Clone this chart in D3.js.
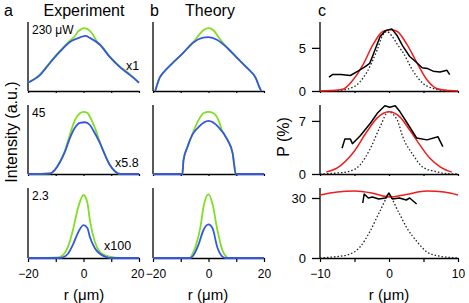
<!DOCTYPE html>
<html>
<head>
<meta charset="utf-8">
<script src="https://cdn.jsdelivr.net/npm/d3@7"></script>
<style>
  body { margin: 0; background: #fff; }
  svg { font-family: "Liberation Sans", Arial, sans-serif; }
</style>
</head>
<body>
<div id="chart"></div>
<script>
// ---- data (r in um, intensity in a.u.) ----
// panel a, experiment
var expGreen1 = [[-20,0.12],[-15.7,0.24],[-12,0.42],[-8.5,0.58],[-4.9,0.73],[-3,0.8],[-2,0.86],[-1,0.89],[0,0.91],[1.3,0.9],[3,0.84],[5.2,0.7],[5.9,0.68],[9.5,0.5],[13,0.36],[16.8,0.24],[20,0.12]];
var expBlue1  = [[-20,0.12],[-15.7,0.23],[-12,0.41],[-8.5,0.57],[-4.9,0.71],[-1.1,0.78],[0.7,0.8],[2.3,0.77],[5.9,0.67],[9.5,0.49],[13,0.35],[16.8,0.23],[20,0.12]];
var expGreen2 = [[-20,0],[-12,0.01],[-10.3,0.06],[-8.5,0.18],[-6.7,0.34],[-4.9,0.57],[-3.1,0.78],[-1.3,0.88],[0,0.9],[1.3,0.89],[2.3,0.83],[4.1,0.67],[5.9,0.46],[7.7,0.28],[9.5,0.13],[11.3,0.04],[13.2,0],[20,0]];
var expBlue2  = [[-20,0],[-12,0.01],[-10.3,0.06],[-8.5,0.17],[-6.7,0.32],[-4.9,0.52],[-3.1,0.67],[-1.3,0.74],[0.5,0.75],[2.3,0.71],[4.1,0.59],[5.9,0.45],[7.7,0.28],[9.5,0.13],[11.3,0.04],[13.2,0],[20,0]];
var expGreen3 = [[-20,0],[-9,0.01],[-7.4,0.04],[-5.6,0.16],[-3.8,0.4],[-2,0.71],[0,0.9],[1.4,0.79],[2.3,0.54],[4.1,0.23],[5.9,0.09],[7.7,0.04],[9.5,0.02],[13,0],[20,0]];
var expBlue3  = [[-20,0],[-9,0],[-7.4,0.01],[-5.6,0.06],[-3.8,0.19],[-2,0.36],[0,0.47],[1.4,0.43],[2.3,0.3],[4.1,0.14],[5.9,0.06],[7.7,0.02],[9.5,0],[20,0]];
// panel b, theory
var thGreen1 = [[-19.2,0],[-18.6,0.08],[-17.5,0.2],[-16.4,0.26],[-12.8,0.41],[-9.2,0.55],[-5.6,0.7],[-2.9,0.84],[-1.5,0.89],[0,0.91],[1.8,0.88],[3.6,0.78],[6.9,0.62],[10.3,0.48],[14,0.33],[17,0.19],[18.5,0.04],[19,0]];
var thBlue1  = [[-19.2,0],[-18.6,0.08],[-17.5,0.2],[-16.4,0.26],[-12.8,0.41],[-9.2,0.55],[-5.6,0.7],[-2.3,0.77],[0,0.78],[3.2,0.74],[6.9,0.62],[10.3,0.48],[14,0.33],[17,0.19],[18.5,0.04],[19,0]];
var thGreen2 = [[-9.4,0],[-9,0.2],[-7.6,0.39],[-5.8,0.58],[-3.6,0.78],[-1.8,0.88],[0,0.9],[1.8,0.88],[3.6,0.78],[5,0.62],[6.9,0.49],[8.7,0.3],[9.8,0]];
var thBlue2  = [[-20,0],[-9.4,0],[-9,0.2],[-7.6,0.39],[-5.8,0.57],[-3.6,0.68],[0,0.77],[3.6,0.68],[6.9,0.49],[8.7,0.3],[9.8,0],[20,0]];
var thGreen3 = [[-6.5,0],[-4.7,0.16],[-2.9,0.44],[-1.8,0.73],[0,0.91],[1.4,0.78],[3.2,0.4],[5,0.11],[6.8,0]];
var thBlue3  = [[-20,0],[-6.5,0],[-5.4,0.04],[-3.6,0.19],[-1.8,0.4],[0,0.48],[1.4,0.43],[3.2,0.15],[5,0.02],[6,0],[20,0]];
// panel c, polarization P (%)
var pExp1 = [[-8.7,1.6],[-8.2,1.9],[-7,1.9],[-5.6,1.8],[-4.5,2.3],[-3.5,2.8],[-2.8,3.2],[-2.3,4.2],[-1.3,6.3],[-0.5,7],[0.4,7.2],[1.2,6.4],[2,5.2],[3,4.0],[4,3.3],[4.8,2.7],[5.6,2.6],[6.4,2.3],[7.4,2.2],[8.4,2.4],[8.8,1.9]];
var pFit1 = [[-10,0],[-8.5,0.05],[-6.7,0.2],[-5.2,1.3],[-3.8,3.0],[-2.3,5.4],[-0.9,6.9],[0.3,7.1],[1.2,6.9],[2.6,5.4],[4.1,3.2],[5.5,1.3],[6.9,0.3],[8.8,0.05],[10,0]];
var pCal1 = [[-10,0],[-7.5,0.05],[-5.2,0.45],[-3.2,2.2],[-1.7,4.8],[-0.9,6.5],[-0.3,6.9],[0.4,6.4],[1.3,5.3],[2,4.5],[3.5,2.3],[4.9,0.9],[6.9,0.2],[8.8,0],[10,0]];
var pExp2 = [[-6.8,3.4],[-6.4,4.6],[-5.6,4.6],[-5.3,4.0],[-4.2,5.0],[-2.7,6.7],[-1.7,8.0],[-0.6,9.0],[0.1,8.8],[0.9,9.0],[1.6,8.2],[3.0,6.2],[4.0,4.75],[5.5,4.5],[7.1,4.9],[7.8,3.6]];
var pFit2 = [[-9.1,0.25],[-7.5,0.8],[-5.2,2.8],[-3.2,5.6],[-1.7,7.4],[0,8.2],[1.6,7.5],[3,5.8],[4.5,3.8],[5.9,2.1],[7.4,0.95],[9.1,0.25]];
var pCal2 = [[-10,0],[-8,0.1],[-6,0.3],[-4.2,1.2],[-2.8,3.2],[-1.3,6.2],[-0.1,8.2],[1.2,7.1],[2,4.9],[3.5,2.5],[4.9,0.9],[6.9,0.3],[8.4,0.05],[10,0]];
var pExp3 = [[-3.8,27.5],[-3.6,32],[-3,30],[-2.4,30.5],[-1.5,29.5],[-0.5,30],[0,32.5],[0.5,29.5],[1.5,30],[2.5,29],[3,30],[3.5,28.5],[4,27]];
var pFit3 = [[-10,31.5],[-7.5,33],[-5,33.5],[-2.5,32.5],[0,30.5],[2.5,31.8],[5.5,33.5],[8,33],[10,31.5]];
var pCal3 = [[-10,0],[-8.5,0.4],[-6.1,1.5],[-4.2,5.5],[-2.8,13],[-1.3,23.5],[0,31],[1.3,23.5],[2.6,15],[4.1,8],[5.5,3],[7.2,1],[9.1,0.2],[10,0]];

var powerLabels = ["230 \u03bcW", "45", "2.3"];
var gainLabels = ["x1", "x5.8", "x100"];
var abTicks = [-20, 0, 20];
var cTicks = [-10, 0, 10];
var cYTicks = [[0, 5], [0, 7], [0, 30]];
var cYMax = [8, 9.1, 35];

var green = "#80de24", blue = "#3556e0", red = "#ee1c1c";

var W = 469, H = 303;
var svg = d3.select("#chart").append("svg").attr("width", W).attr("height", H);

var rowTop = [22, 105, 188], rowBase = [91, 174, 258];

var xa = d3.scaleLinear().domain([-20, 20]).range([28, 139]);
var xb = d3.scaleLinear().domain([-20, 20]).range([153, 264]);
var xc = d3.scaleLinear().domain([-10, 10]).range([320, 458]);

function yRow(i, max) {
  return d3.scaleLinear().domain([0, max]).range([rowBase[i], rowTop[i]]);
}

function drawLine(g, pts, x, y, color, width, dash) {
  var line = d3.line().x(function (d) { return x(d[0]); }).y(function (d) { return y(d[1]); }).curve(d3.curveMonotoneX);
  g.append("path").datum(pts).attr("d", line)
    .attr("fill", "none").attr("stroke", color).attr("stroke-width", width)
    .attr("stroke-dasharray", dash || null).attr("stroke-linejoin", "round");
}

function frame(g, x, y, ticks, last, fmt) {
  // vertical axis
  g.append("line").attr("x1", x.range()[0]).attr("x2", x.range()[0])
    .attr("y1", y.range()[1]).attr("y2", y.range()[0]).attr("stroke", "#000").attr("stroke-width", 1.3);
  var ax = d3.axisBottom(x).tickValues(ticks).tickSize(last ? 4 : 2).tickSizeOuter(0)
    .tickFormat(last ? fmt : "");
  var a = g.append("g").attr("transform", "translate(0," + y.range()[0] + ")").call(ax);
  a.select(".domain").attr("stroke-width", 1.5);
  a.selectAll(".tick line").attr("stroke-width", 1.2);
  a.selectAll("text").attr("font-size", 12).attr("y", 11).attr("dy", "0.75em").attr("fill", "#000");
  return a;
}

var sets = [
  [expGreen1, expBlue1, thGreen1, thBlue1, pExp1, pFit1, pCal1],
  [expGreen2, expBlue2, thGreen2, thBlue2, pExp2, pFit2, pCal2],
  [expGreen3, expBlue3, thGreen3, thBlue3, pExp3, pFit3, pCal3]
];

var fmt = d3.format("d");

sets.forEach(function (s, i) {
  var last = i === 2;
  var y = yRow(i, 1);
  var g = svg.append("g");

  // panel a
  var fa = frame(g, xa, y, [-20, -10, 0, 10, 20], last, function (d) { return abTicks.indexOf(d) >= 0 ? fmt(d) : ""; });
  fa.selectAll("text").filter(function (d) { return d === 20; }).attr("dx", "-0.15em");
  drawLine(g, s[0], xa, y, green, 1.8);
  drawLine(g, s[1], xa, y, blue, 1.8);
  g.append("text").attr("x", 32).attr("y", rowTop[i] + 12).attr("font-size", 12).text(powerLabels[i]);
  g.append("text").attr("x", [126, 115, 104][i]).attr("y", [70, 167, 250][i]).attr("font-size", 12.5).text(gainLabels[i]);

  // panel b
  var fb = frame(g, xb, y, [-20, -10, 0, 10, 20], last, function (d) { return abTicks.indexOf(d) >= 0 ? fmt(d) : ""; });
  fb.selectAll("text").filter(function (d) { return d === -20; }).attr("dx", "0.2em");
  drawLine(g, s[2], xb, y, green, 1.8);
  drawLine(g, s[3], xb, y, blue, 1.8);

  // panel c
  var yc = yRow(i, cYMax[i]);
  frame(g, xc, yc, [-10, -5, 0, 5, 10], last, function (d) { return cTicks.indexOf(d) >= 0 ? fmt(d) : ""; });
  var ay = d3.axisLeft(yc).tickValues(cYTicks[i]).tickSize(8).tickPadding(6).tickFormat(fmt);
  var gy = g.append("g").attr("transform", "translate(" + xc.range()[0] + ",0)").call(ay);
  gy.select(".domain").remove();
  gy.selectAll(".tick line").attr("stroke-width", 1.3);
  gy.selectAll("text").attr("font-size", 13).attr("fill", "#000");
  drawLine(g, s[6], xc, yc, "#222", 1.3, "1.5,2");
  drawLine(g, s[5], xc, yc, red, 1.5);
  var lineLin = d3.line().x(function (d) { return xc(d[0]); }).y(function (d) { return yc(d[1]); });
  g.append("path").datum(s[4]).attr("d", lineLin).attr("fill", "none")
    .attr("stroke", "#000").attr("stroke-width", 1.5).attr("stroke-linejoin", "round");
});

// titles and axis labels
function txt(x, y, s, size, anchor) {
  return svg.append("text").attr("x", x).attr("y", y).attr("font-size", size)
    .attr("text-anchor", anchor || "start").text(s);
}
txt(4, 16, "a", 16);
txt(84, 16, "Experiment", 16, "middle");
txt(150, 16, "b", 16);
txt(210, 16, "Theory", 16, "middle");
txt(318, 16, "c", 16);
txt(84, 300, "r (\u03bcm)", 15, "middle");
txt(208, 300, "r (\u03bcm)", 15, "middle");
txt(389, 300, "r (\u03bcm)", 15, "middle");
svg.append("text").attr("transform", "translate(17,132) rotate(-90)")
  .attr("text-anchor", "middle").attr("font-size", 16).text("Intensity (a.u.)");
svg.append("text").attr("transform", "translate(289,137) rotate(-90)")
  .attr("text-anchor", "middle").attr("font-size", 16).text("P (%)");
</script>
</body>
</html>
